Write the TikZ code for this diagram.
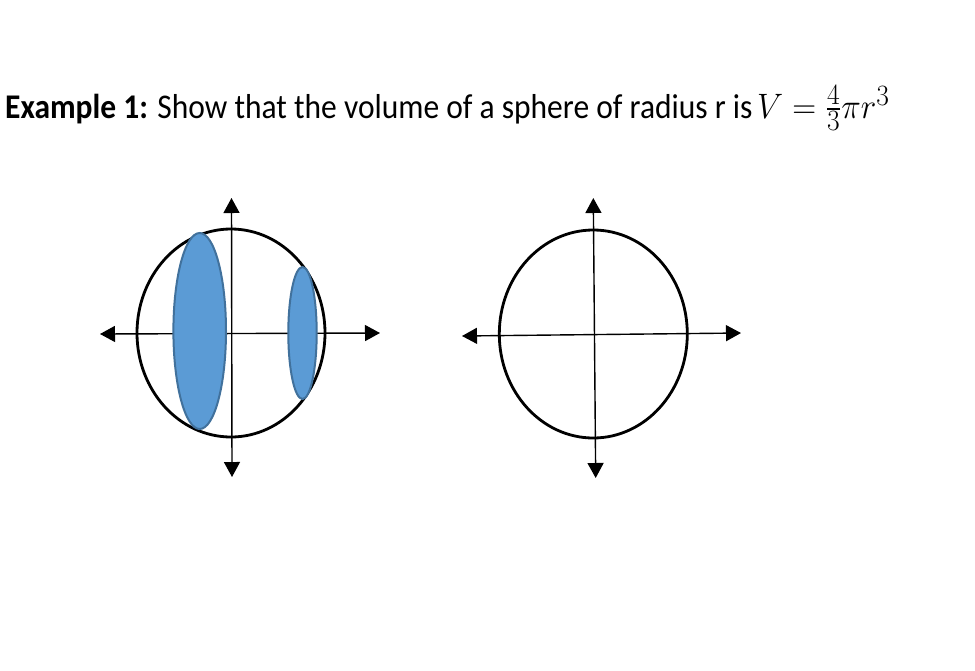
\documentclass[tikz,border=0pt]{standalone}
\usepackage{amsmath}
\usepackage{fontspec}
\setmainfont{Carlito}
\usetikzlibrary{arrows.meta}
\definecolor{fillblue}{HTML}{5B9BD5}
\definecolor{edgeblue}{HTML}{41719C}
\tikzset{
  sphere/.style={draw=black, line width=2.8pt},
  axis/.style={draw=black, line width=1.4pt, {Triangle[length=15pt,width=16pt]}-{Triangle[length=15pt,width=16pt]}},
  slice/.style={fill=fillblue, draw=edgeblue, line width=2pt},
  titletext/.style={anchor=base west, inner sep=0pt, font=\fontsize{31.5}{36}\selectfont},
}
\begin{document}
\begin{tikzpicture}[x=1pt,y=-1pt]
\useasboundingbox (0,0) rectangle (975,670);
\node[titletext] (title) at (5,118)
  {\scalebox{1}[1.1]{\textbf{Example 1:} Show that the volume of a sphere of radius r is}};
\node[titletext, font=\fontsize{24.88}{30}\selectfont] (formula) at (757,118)
  {\scalebox{1.33}[1.42]{$V=\tfrac{4}{3}\pi r^{3}$}};
% left figure
\coordinate (Lt) at (231.5,198);
\coordinate (Lb) at (232,477);
\coordinate (Ll) at (100,334);
\coordinate (Lr) at (380,333);
\draw[sphere] (231,333) ellipse [x radius=94, y radius=104] node (Lc) {};
\draw[axis] (Lt) -- (Lb);
\draw[axis] (Ll) -- (Lr);
\draw[slice] (199.7,331) ellipse [x radius=26.3, y radius=98] node (big) {};
\draw[slice] (302.5,333) ellipse [x radius=14.2, y radius=66] node (small) {};
% right figure
\coordinate (Rt) at (593.3,198);
\coordinate (Rb) at (595.7,478);
\coordinate (Rl) at (462,336);
\coordinate (Rr) at (741,333);
\draw[sphere] (593.3,334) ellipse [x radius=94, y radius=104] node (Rc) {};
\draw[axis] (Rt) -- (Rb);
\draw[axis] (Rl) -- (Rr);
\end{tikzpicture}
\end{document}
